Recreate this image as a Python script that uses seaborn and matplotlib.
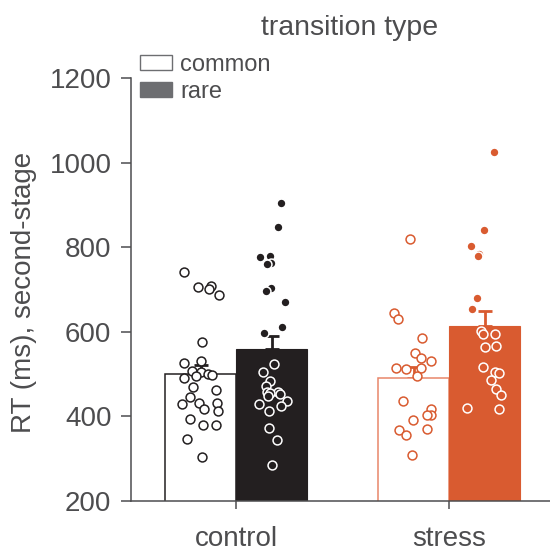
import numpy as np
import pandas as pd
import matplotlib
matplotlib.use("Agg")
import matplotlib.pyplot as plt
import seaborn as sns
from matplotlib.patches import Patch

# ---------------- data (RT in ms) ----------------
conditions = ["control", "stress"]
transitions = ["common", "rare"]

control_common = [742, 708, 705, 700, 687, 576, 531, 525, 507, 505, 501, 498, 495, 490,
                  470, 462, 445, 432, 432, 429, 416, 413, 393, 379, 379, 345, 303]
control_rare = [905, 849, 780, 777, 762, 760, 703, 696, 670, 611, 597, 524, 505, 483,
                472, 458, 458, 456, 452, 448, 436, 429, 423, 413, 371, 344, 285]
stress_common = [819, 644, 631, 586, 550, 537, 531, 515, 515, 512, 496, 437, 418, 404,
                 402, 391, 370, 367, 355, 309]
stress_rare = [1025, 840, 804, 785, 779, 680, 654, 602, 595, 594, 567, 565, 516, 505,
               503, 486, 464, 450, 420, 416]

y_ticks = [200, 400, 600, 800, 1000, 1200]
y_label = "RT (ms), second-stage"
legend_title = "transition type"

# ---------------- styling ----------------
sns.set_theme(style="ticks")
plt.rcParams["font.family"] = ["Liberation Sans", "DejaVu Sans"]
TXT = "#4d4d4f"
DARK = "#231f20"
ORANGE = "#d95b30"
ORANGE_LIGHT = "#e8866a"
LEG_GRAY = "#6d6e71"
group_color = {"control": DARK, "stress": ORANGE}
common_edge = {"control": DARK, "stress": ORANGE_LIGHT}

series = {
    ("control", "common"): control_common,
    ("control", "rare"): control_rare,
    ("stress", "common"): stress_common,
    ("stress", "rare"): stress_rare,
}
rows = []
for (c, t), vals in series.items():
    for v in vals:
        rows.append({"condition": c, "transition": t, "rt": v})
df = pd.DataFrame(rows)

fig = plt.figure(figsize=(5.5, 5.53), dpi=100)
ax = fig.add_axes([0.238, 0.0946, 0.762, 0.7638])

sns.barplot(data=df, x="condition", y="rt", hue="transition", order=conditions,
            hue_order=transitions, errorbar=None, width=0.666, ax=ax, legend=False,
            saturation=1)

centers = {}
for j, t in enumerate(transitions):
    for i, c in enumerate(conditions):
        bar = ax.containers[j][i]
        bar.set_zorder(1)
        if t == "common":
            bar.set_facecolor("white")
            bar.set_edgecolor(common_edge[c])
            bar.set_linewidth(1.1)
        else:
            bar.set_facecolor(group_color[c])
            bar.set_edgecolor(group_color[c])
            bar.set_linewidth(0.8)
        centers[(c, t)] = bar.get_x() + bar.get_width() / 2

# error bars (mean + SEM, upward only)
stats = df.groupby(["condition", "transition"])["rt"].agg(["mean", "sem"])
for (c, t), row in stats.iterrows():
    ax.errorbar([centers[(c, t)]], [row["mean"]], yerr=[[0], [row["sem"]]],
                fmt="none", ecolor=group_color[c], elinewidth=2.0, capsize=5,
                capthick=2.0, zorder=0.9)

# individual points
np.random.seed(7)
for (c, t), vals in series.items():
    sub = df[(df.condition == c) & (df.transition == t)].copy()
    sub["xpos"] = centers[(c, t)]
    if t == "common":
        fc, ec = "white", group_color[c]
    else:
        fc, ec = group_color[c], "white"
    sns.stripplot(data=sub, x="xpos", y="rt", native_scale=True, orient="v",
                  jitter=0.09, color=fc, edgecolor=ec, linewidth=1.1, size=6.4,
                  ax=ax, zorder=3)

# axes
ax.set_xlim(-0.494, 1.474)
ax.set_ylim(200, 1200)
ax.set_yticks(y_ticks)
ax.set_yticklabels([str(v) for v in y_ticks])
ax.set_xticks([0, 1])
ax.set_xticklabels(conditions)
ax.set_xlabel("")
ax.set_ylabel(y_label, fontsize=20, color=TXT)
ax.yaxis.set_label_coords(-0.225, 0.492)
sns.despine(ax=ax)
for s in ["left", "bottom"]:
    ax.spines[s].set_color(TXT)
    ax.spines[s].set_linewidth(1.1)
ax.tick_params(axis="y", length=7, width=1.1, color=TXT, labelcolor=TXT,
               labelsize=20, pad=7)
ax.tick_params(axis="x", length=6, width=1.1, color=TXT, labelcolor=TXT,
               labelsize=20, pad=12)

# legend
handles = [Patch(facecolor="white", edgecolor=LEG_GRAY, linewidth=1.0, label="common"),
           Patch(facecolor=LEG_GRAY, edgecolor=LEG_GRAY, label="rare")]
fig.legend(handles=handles, loc="upper left", bbox_to_anchor=(0.255, 0.902),
           frameon=False, fontsize=17, handlelength=1.35, handleheight=0.6,
           handletextpad=0.35, labelspacing=0.2, borderpad=0, borderaxespad=0,
           labelcolor=TXT)
fig.text(0.636, 0.949, legend_title, ha="center", va="center", fontsize=20.5, color=TXT)

fig.savefig("out.png", dpi=100)
